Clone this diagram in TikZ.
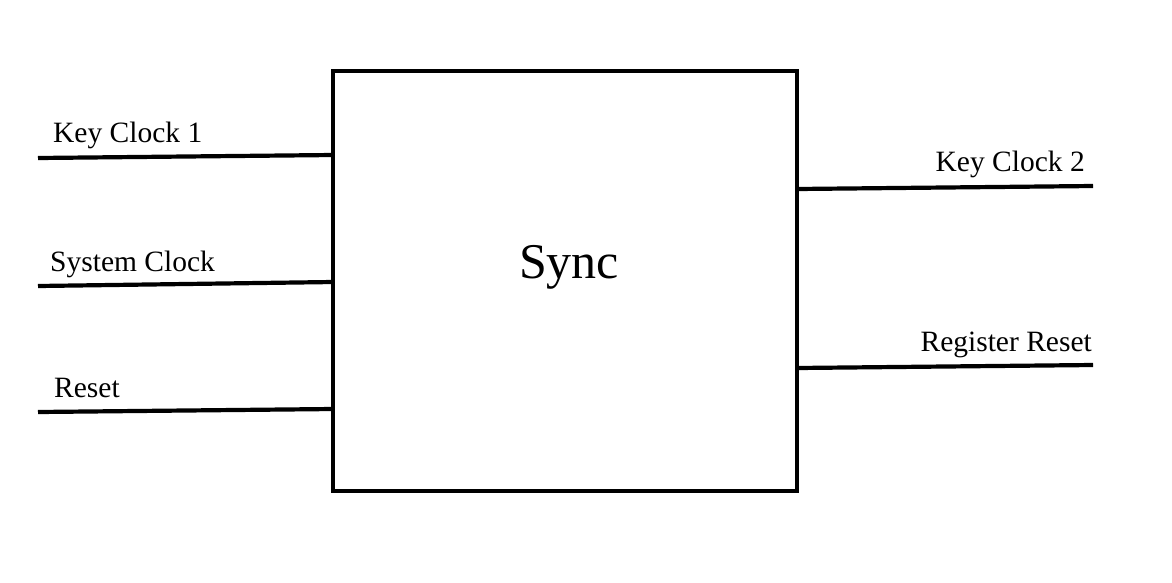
\documentclass[tikz,border=0pt]{standalone}
\usepackage{fontspec}
\setmainfont{Liberation Serif}
\begin{document}
\begin{tikzpicture}[x=1pt,y=-1pt,
  wire/.style={line width=4.2pt},
  lbl/.style={inner sep=0pt,font=\fontsize{29.5}{34}\selectfont},
  blockbox/.style={draw,line width=4.2pt,rectangle,inner sep=0pt,minimum width=464pt,minimum height=420pt}]
\useasboundingbox (0,0) rectangle (1172,582);
\node[blockbox] (sync) at (565,281) {};
\node[inner sep=0pt,anchor=base,font=\fontsize{50}{58}\selectfont] (synclbl) at (569,278) {Sync};
% left wires
\coordinate (kc1a) at (38,158);   \coordinate (kc1b) at (333,155);
\coordinate (sca) at (38,286);    \coordinate (scb) at (333,282);
\coordinate (rsa) at (38,412);    \coordinate (rsb) at (333,409);
% right wires
\coordinate (kc2a) at (797,189);  \coordinate (kc2b) at (1093,186);
\coordinate (rra) at (797,368);   \coordinate (rrb) at (1093,365);
\draw[wire] (kc1a) -- (kc1b);
\draw[wire] (sca) -- (scb);
\draw[wire] (rsa) -- (rsb);
\draw[wire] (kc2a) -- (kc2b);
\draw[wire] (rra) -- (rrb);
\node[lbl,anchor=base west] (t1) at (53,142) {Key Clock 1};
\node[lbl,anchor=base west] (t2) at (50,271) {System Clock};
\node[lbl,anchor=base west] (t3) at (54,397) {Reset};
\node[lbl,anchor=base east] (t4) at (1085,171) {Key Clock 2};
\node[lbl,anchor=base east] (t5) at (1092,351) {Register Reset};
\end{tikzpicture}
\end{document}
